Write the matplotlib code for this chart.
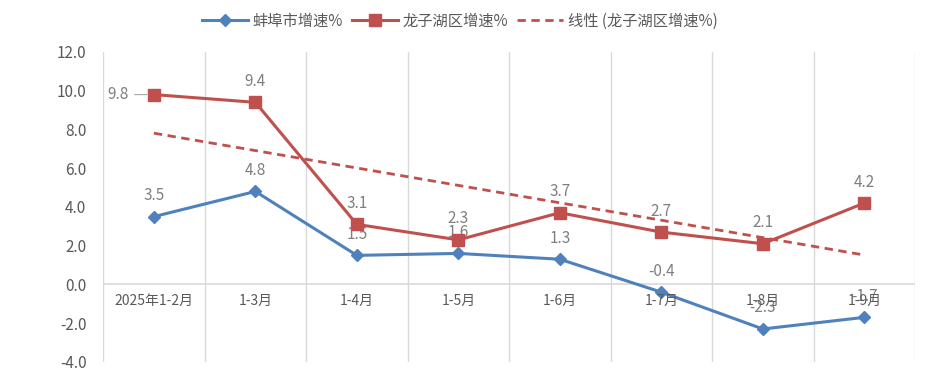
import numpy as np
import matplotlib
matplotlib.use("Agg")
import matplotlib.pyplot as plt

plt.rcParams['font.family'] = ['Noto Sans CJK SC', 'DejaVu Sans']

# 数据
categories = ["2025年1-2月", "1-3月", "1-4月", "1-5月", "1-6月", "1-7月", "1-8月", "1-9月"]
bengbu = [3.5, 4.8, 1.5, 1.6, 1.3, -0.4, -2.3, -1.7]
longzihu = [9.8, 9.4, 3.1, 2.3, 3.7, 2.7, 2.1, 4.2]

blue = '#4F81BD'
red = '#C0504D'
txt = '#595959'
lab = '#7F7F7F'

x = np.arange(len(categories))

fig = plt.figure(figsize=(9.29, 3.85), dpi=100)
ax = fig.add_axes([0.111, 0.06, 0.874, 0.805])

l1, = ax.plot(x, bengbu, color=blue, lw=2.2, marker='D', ms=6, label='蚌埠市增速%')
l2, = ax.plot(x, longzihu, color=red, lw=2.2, marker='s', ms=8, label='龙子湖区增速%')

# 线性趋势线
k, b = np.polyfit(x, longzihu, 1)
l3, = ax.plot(x, k * x + b, color=red, lw=2, ls=(0, (3, 2)), label='线性 (龙子湖区增速%)')

ax.set_xlim(-0.5, len(categories) - 0.5)
ax.set_ylim(-4, 12)
ax.set_yticks(np.arange(-4, 12.1, 2))
ax.set_yticklabels([f"{v:.1f}" for v in np.arange(-4, 12.1, 2)], color=txt, fontsize=11)
ax.tick_params(axis='y', length=0, pad=12)
ax.set_xticks([])

for s in ax.spines.values():
    s.set_visible(False)

# 竖网格线和零线
for xv in np.arange(-0.5, len(categories), 1):
    ax.axvline(xv, color='#D9D9D9', lw=1, zorder=0)
ax.axhline(0, color='#D9D9D9', lw=1.2, zorder=0)

# 分类标签放在零线下方
for i, c in enumerate(categories):
    ax.text(i, -0.5, c, ha='center', va='top', color=txt, fontsize=10)

# 数据标签
for i, v in enumerate(bengbu):
    ax.annotate(f"{v}", (i, v), xytext=(0, 9), textcoords='offset points',
                ha='center', va='bottom', color=lab, fontsize=11, zorder=1)
for i, v in enumerate(longzihu):
    if i == 0:
        ax.annotate(f"{v}", (i, v), xytext=(-18, 0), textcoords='offset points',
                    ha='right', va='center', color=lab, fontsize=11,
                    arrowprops=dict(arrowstyle='-', color='#A6A6A6', lw=0.8,
                                    shrinkA=2, shrinkB=5))
    else:
        ax.annotate(f"{v}", (i, v), xytext=(0, 9), textcoords='offset points',
                    ha='center', va='bottom', color=lab, fontsize=11)

fig.legend(handles=[l1, l2, l3], loc='center', bbox_to_anchor=(0.495, 0.945), ncol=3,
           frameon=False, fontsize=11, labelcolor=txt, handlelength=3.0,
           columnspacing=0.6, handletextpad=0.3)

fig.savefig("out.png", dpi=100)
